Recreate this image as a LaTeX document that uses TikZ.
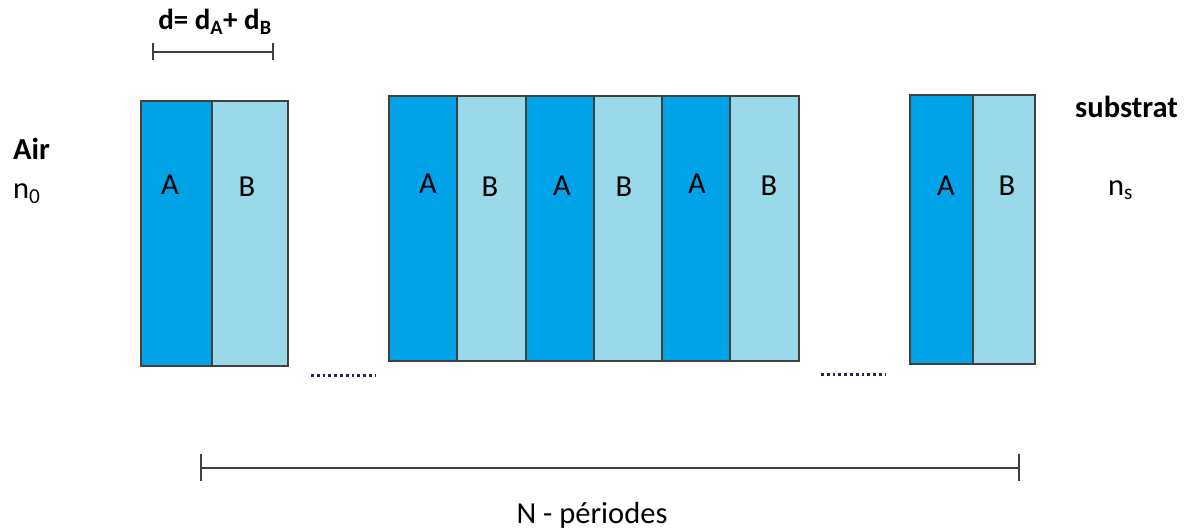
\documentclass[tikz,border=0pt]{standalone}
\usepackage{fontspec}
\setmainfont{Carlito}
\definecolor{colA}{RGB}{0,162,232}
\definecolor{colB}{RGB}{153,217,234}
\definecolor{edge}{RGB}{64,64,64}
\definecolor{dotc}{RGB}{40,40,70}
\begin{document}
\begin{tikzpicture}[x=1pt,y=-1pt,
  txt/.style={font=\fontsize{30.5}{36}\selectfont, inner sep=0pt, text=black},
  btxt/.style={font=\fontsize{30.5}{36}\selectfont\bfseries, inner sep=0pt, text=black},
  layerA/.style={fill=colA},
  layerB/.style={fill=colB},
  frame/.style={draw=edge, line width=2pt},
  dimline/.style={draw=edge, line width=1.6pt},
  dotline/.style={draw=dotc, line width=3pt, dash pattern=on 2.8pt off 3pt}]
\useasboundingbox (0,0) rectangle (1192,532);

% block 1
\fill[layerA] (141,101) rectangle (212,366);
\fill[layerB] (212,101) rectangle (288,366);
\draw[frame] (141,101) rectangle (288,366);
\draw[frame] (212,101) -- (212,366);

% block 2
\foreach \xa/\xb/\xc in {389/457/526, 526/594/662, 662/730/799}{
  \fill[layerA] (\xa,96) rectangle (\xb,361);
  \fill[layerB] (\xb,96) rectangle (\xc,361);
}
\draw[frame] (389,96) rectangle (799,361);
\foreach \x in {457,526,594,662,730}{\draw[frame] (\x,96) -- (\x,361);}

% block 3
\fill[layerA] (910,95) rectangle (973,364);
\fill[layerB] (973,95) rectangle (1035,364);
\draw[frame] (910,95) rectangle (1035,364);
\draw[frame] (973,95) -- (973,364);

% layer labels
\node[txt] (a1) at (170,185) {A};
\node[txt] (b1) at (247,187) {B};
\node[txt] (a2) at (428,184) {A};
\node[txt] (b2) at (490,187) {B};
\node[txt] (a3) at (562,186) {A};
\node[txt] (b3) at (624,187) {B};
\node[txt] (a4) at (697,184) {A};
\node[txt] (b4) at (769,186) {B};
\node[txt] (a5) at (946,186) {A};
\node[txt] (b5) at (1007,186) {B};

% dotted gaps
\coordinate (g1s) at (311,375);
\coordinate (g1e) at (375,375);
\coordinate (g2s) at (821,374);
\coordinate (g2e) at (885,374);
\draw[dotline] (g1s) -- (g1e);
\draw[dotline] (g2s) -- (g2e);

% period dimension
\coordinate (d1) at (153,52);
\coordinate (d2) at (273,52);
\draw[dimline] (d1) -- (d2);
\draw[dimline] ([yshift=-8]d1) -- ([yshift=9]d1);
\draw[dimline] ([yshift=-8]d2) -- ([yshift=9]d2);
\node[btxt, anchor=base, font=\fontsize{29}{34}\selectfont\bfseries] (dlab) at (215,30) {d= d\textsubscript{A}+ d\textsubscript{B}};

% N periods dimension
\coordinate (n1) at (201,468);
\coordinate (n2) at (1019,468);
\draw[dimline] (n1) -- (n2);
\draw[dimline] ([yshift=-13]n1) -- ([yshift=14]n1);
\draw[dimline] ([yshift=-13]n2) -- ([yshift=14]n2);
\node[txt, anchor=base] (nlab) at (592,523) {N - périodes};

% media labels
\node[btxt, anchor=base west] (air) at (13,160) {Air};
\node[txt, anchor=base west] (n0) at (13,198) {n\textsubscript{0}};
\node[btxt, anchor=base west] (sub) at (1075,118) {substrat};
\node[txt, anchor=base west] (ns) at (1108,196) {n\textsubscript{s}};
\end{tikzpicture}
\end{document}
